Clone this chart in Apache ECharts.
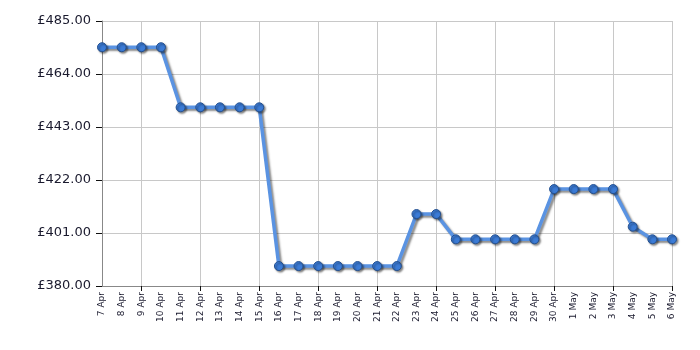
<!DOCTYPE html>
<html><head><meta charset="utf-8">
<script src="https://cdn.jsdelivr.net/npm/echarts@6/dist/echarts.min.js"></script>
<style>html,body{margin:0;padding:0;background:#fff}#c{width:700px;height:350px}</style>
</head><body><div id="c"></div>
<script>
var categories = ['7 Apr','8 Apr','9 Apr','10 Apr','11 Apr','12 Apr','13 Apr','14 Apr','15 Apr','16 Apr','17 Apr','18 Apr','19 Apr','20 Apr','21 Apr','22 Apr','23 Apr','24 Apr','25 Apr','26 Apr','27 Apr','28 Apr','29 Apr','30 Apr','1 May','2 May','3 May','4 May','5 May','6 May'];
var prices = [474.6,474.6,474.6,474.6,450.8,450.8,450.8,450.8,450.8,387.9,387.9,387.9,387.9,387.9,387.9,387.9,408.5,408.5,398.5,398.5,398.5,398.5,398.5,418.4,418.4,418.4,418.4,403.5,398.5,398.5];
var yMin = 380, yMax = 485, yStep = 21;

var chart = echarts.init(document.getElementById('c'), null, {renderer:'canvas'});
var every3 = function(i){ return i % 3 === 2; };
chart.setOption({
  animation:false,
  grid:{left:102,right:28,top:21,bottom:64,containLabel:false},
  xAxis:{
    type:'category', data:categories, boundaryGap:false,
    axisLine:{lineStyle:{color:'#888',width:1}},
    axisTick:{show:true,interval:every3,length:5,lineStyle:{color:'#111',width:1}},
    axisLabel:{interval:0,rotate:90,fontFamily:'DejaVu Sans',fontSize:9,color:'#1a1a2e',margin:6},
    splitLine:{show:true,interval:every3,lineStyle:{color:'#c8c8c8',width:1}}
  },
  yAxis:{
    type:'value', min:yMin, max:yMax, interval:yStep,
    axisLine:{show:true,lineStyle:{color:'#888',width:1}},
    axisTick:{show:true,length:6,lineStyle:{color:'#111',width:1}},
    axisLabel:{fontFamily:'DejaVu Sans',fontSize:13,color:'#1a1a2e',margin:11,
      formatter:function(v){return '£'+v.toFixed(2);}},
    splitLine:{show:true,lineStyle:{color:'#c8c8c8',width:1}}
  },
  series:[{
    type:'line', data:prices,
    symbol:'circle', symbolSize:9,
    lineStyle:{color:'#5a93e2',width:3.5,shadowColor:'rgba(0,0,0,0.45)',shadowBlur:2,shadowOffsetX:2,shadowOffsetY:2},
    itemStyle:{color:'#3b7bd6',borderColor:'#24508f',borderWidth:1,shadowColor:'rgba(0,0,0,0.45)',shadowBlur:2,shadowOffsetX:1.5,shadowOffsetY:1.5}
  }]
});
</script></body></html>
